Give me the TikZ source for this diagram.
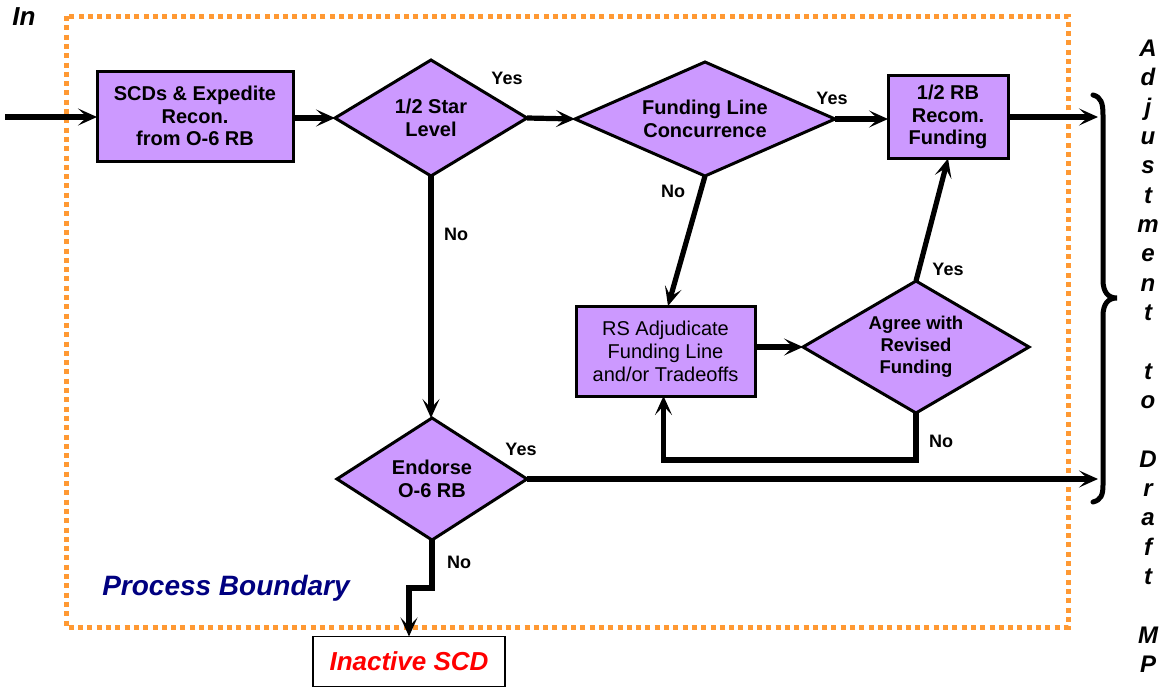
\documentclass[tikz,border=0pt]{standalone}
\usepackage{fontspec}
\setmainfont{Liberation Sans}
\usetikzlibrary{shapes.geometric,arrows.meta}
\definecolor{procfill}{RGB}{204,153,255}
\definecolor{boundary}{RGB}{255,153,51}
\definecolor{navyblue}{RGB}{0,0,128}
\definecolor{alertred}{RGB}{255,0,0}

\begin{document}
\begin{tikzpicture}[x=1pt,y=-1pt,
  procbox/.style={draw=black, line width=3pt, fill=procfill, rectangle,
    inner sep=0pt, outer sep=0pt, align=center,
    font=\fontsize{20}{22.5}\selectfont\bfseries},
  decision/.style={draw=black, line width=3pt, fill=procfill, diamond,
    inner sep=0pt, outer sep=0pt, align=center,
    font=\fontsize{20}{23.5}\selectfont\bfseries},
  flow/.style={line width=5.2pt, draw=black,
    -{Stealth[length=19pt,width=17pt,inset=9pt]}},
  branch/.style={font=\fontsize{18}{20}\selectfont\bfseries},
  sideletter/.style={font=\fontsize{24}{26}\selectfont\bfseries\itshape,
    anchor=base, inner sep=0pt},
]
% canvas
\useasboundingbox (0,0) rectangle (1163,688);
\fill[white] (0,0) rectangle (1163,688);

% process boundary (dotted)
\draw[boundary, line width=5pt, dash pattern=on 5pt off 4.3pt]
  (66,16) rectangle (1068,627);

\node[font=\fontsize{26}{28}\selectfont\bfseries\itshape] (intext) at (24,17) {In};
\node[font=\fontsize{28}{30}\selectfont\bfseries\itshape, text=navyblue]
  (pblabel) at (226,588) {Process Boundary};

% process steps
\node[procbox, minimum width=196pt, minimum height=90pt] (scd) at (195,116)
  {SCDs \& Expedite\\Recon.\\from O-6 RB};
\node[decision, minimum width=192pt, minimum height=116pt, aspect=1.655]
  (star) at (431,118) {1/2 Star\\Level};
\node[decision, minimum width=260pt, minimum height=114pt, aspect=2.28]
  (fundline) at (705,119) {Funding Line\\Concurrence};
\node[procbox, minimum width=120pt, minimum height=83pt] (rbfund) at (948,117)
  {1/2 RB\\Recom.\\Funding};
\node[procbox, font=\fontsize{20}{23}\selectfont, minimum width=179pt,
  minimum height=90pt] (adjud) at (665.5,351)
  {RS Adjudicate\\Funding Line\\and/or Tradeoffs};
\node[decision, font=\fontsize{18.5}{22}\selectfont\bfseries,
  minimum width=226pt, minimum height=132pt, aspect=1.71]
  (agree) at (916,347) {Agree with\\Revised\\Funding};
\node[decision, minimum width=190pt, minimum height=122pt, aspect=1.56]
  (endorse) at (432,479) {Endorse\\O-6 RB};
\node[draw=black, line width=1.8pt, fill=white, minimum width=192pt,
  minimum height=50pt, inner sep=0pt, outer sep=0pt,
  font=\fontsize{26}{28}\selectfont\bfseries\itshape, text=alertred]
  (inactive) at (409,661.5) {Inactive SCD};

% free ends of the connectors
\coordinate (inlet) at (5,117);
\coordinate (outtop) at (1098,117);
\coordinate (outbot) at (1098,479);

% connectors
\draw[flow] (inlet) -- (inlet -| scd.west);
\draw[flow] (scd.east |- star.west) -- (star.west);
\draw[flow] (star.east) -- (fundline.west);
\draw[flow] (fundline.east) -- (fundline.east -| rbfund.west);
\draw[flow] (rbfund.east |- outtop) -- (outtop);
\draw[flow] (fundline.south) -- ([xshift=2.5pt]adjud.north);
\draw[flow] (adjud.east |- agree.west) -- (agree.west);
\draw[flow] (agree.north) -- (rbfund.south);
\draw[flow] (agree.south) -- ++(0,47) -| ([xshift=-2pt]adjud.south);
\draw[flow] (star.south -| 431,0) -- (431,0 |- endorse.north);
\draw[flow] (endorse.east) -- (outbot);
\draw[flow] (endorse.south) -- ++(0,48) -| (inactive.north);

% branch labels
\node[branch] (l1) at (507,78) {Yes};
\node[branch] (l2) at (832,98) {Yes};
\node[branch] (l3) at (673,191) {No};
\node[branch] (l4) at (456,234) {No};
\node[branch] (l5) at (948,269) {Yes};
\node[branch] (l6) at (941,441) {No};
\node[branch] (l7) at (521,449) {Yes};
\node[branch] (l8) at (459,562) {No};

% closing brace
\draw[line width=5pt, line cap=round]
  (1093,95) .. controls (1101,97) and (1103,103) .. (1103,115)
  -- (1103,280) .. controls (1103,292) and (1108,298) .. (1117,298)
  .. controls (1108,298) and (1103,304) .. (1103,316)
  -- (1103,485) .. controls (1103,495) and (1101,500) .. (1093,502);

% vertical caption
\foreach \ch [count=\i from 0] in {A,d,j,u,s,t,m,e,n,t,{},t,o,{},D,r,a,f,t,{},M,P}
  \node[sideletter] (side-\i) at (1148,56.5+29.33*\i) {\ch};
\end{tikzpicture}
\end{document}
